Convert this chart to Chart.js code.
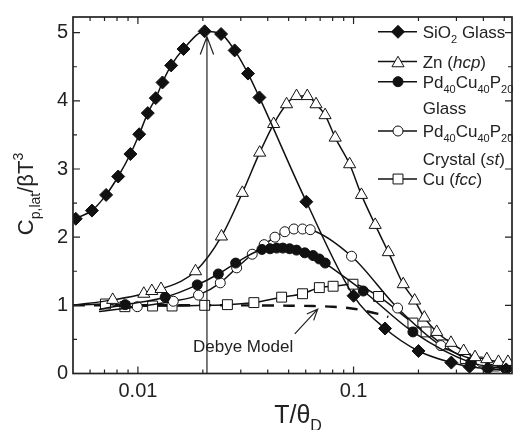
<!DOCTYPE html>
<html><head><meta charset="utf-8">
<style>html,body{margin:0;padding:0;background:#fff;overflow:hidden}#wrap{width:518px;height:430px;overflow:hidden;position:relative}canvas{display:block}</style>
<script src="https://cdn.jsdelivr.net/npm/chart.js@4.4.1/dist/chart.umd.min.js"></script>
</head><body><div id="wrap"><canvas id="c" width="520" height="430"></canvas></div>
<script>
// ---- data ----
const sio2T = [0.00515,0.00612,0.00712,0.0081,0.00923,0.01014,0.01111,0.0121,0.0130,0.01426,0.01627,0.0204,0.0243,0.0281,0.0324,0.0366,0.0604,0.100,0.140,0.200,0.284,0.345,0.42,0.51];
const sio2C = [2.27,2.39,2.62,2.89,3.22,3.51,3.82,4.04,4.27,4.52,4.76,5.02,4.98,4.74,4.40,4.05,2.52,1.14,0.66,0.33,0.16,0.10,0.07,0.06];
const znT = [0.00764,0.01065,0.0116,0.0128,0.0185,0.0244,0.0305,0.0367,0.0426,0.0489,0.0544,0.061,0.067,0.0738,0.0822,0.0959,0.1088,0.126,0.145,0.170,0.192,0.213,0.243,0.283,0.324,0.366,0.415,0.47,0.52];
const znC = [1.08,1.17,1.21,1.24,1.50,2.01,2.65,3.24,3.66,3.95,4.07,4.07,3.95,3.79,3.46,3.07,2.62,2.18,1.78,1.31,1.07,0.82,0.61,0.45,0.33,0.24,0.21,0.17,0.17];
const pdGlassT = [0.00873,0.01338,0.01885,0.0236,0.0284,0.0376,0.0410,0.0440,0.0470,0.0505,0.0544,0.0594,0.0649,0.0694,0.0739,0.111,0.1885,0.35,0.51];
const pdGlassC = [1.01,1.12,1.30,1.46,1.62,1.82,1.83,1.84,1.84,1.83,1.81,1.77,1.73,1.68,1.62,1.21,0.61,0.16,0.07];
const pdCrystT = [0.00993,0.01459,0.0191,0.0241,0.0287,0.0339,0.0385,0.0432,0.048,0.0529,0.058,0.0630,0.0979,0.160,0.254,0.39,0.51];
const pdCrystC = [0.98,1.06,1.15,1.33,1.55,1.75,1.89,2.00,2.08,2.12,2.12,2.11,1.72,0.96,0.41,0.17,0.08];
const cuT = [0.00707,0.0087,0.0117,0.0144,0.0204,0.026,0.0345,0.0464,0.058,0.0694,0.0804,0.0994,0.1306,0.1885,0.217,0.26,0.33,0.45];
const cuC = [1.02,0.98,0.99,0.99,1.00,1.01,1.04,1.12,1.17,1.26,1.28,1.31,1.13,0.74,0.61,0.42,0.22,0.11];
const debyeT = [0.005,0.03,0.05,0.065,0.08,0.10,0.13,0.145];
const debyeC = [1.00,1.00,0.995,0.99,0.98,0.95,0.875,0.83];
// where each fitted curve starts (no marker)
const sio2Start = [0.005,2.24];
const znStart = [0.005,1.00];
const pdGlassStart = [0.0066,0.94];
const pdCrystStart = [0.0066,0.91];
const cuStart = [0.005,1.00];
// arrows (data coordinates)
const peakArrow = [[0.0209,0],[0.0209,4.94]];
const debyeArrow = [[0.0534,0.58],[0.0682,0.945]];
// ticks
const xTicks = [0.01,0.1];
const xTickLabels = ['0.01','0.1'];
const xMinor = [0.006,0.007,0.008,0.009,0.02,0.03,0.04,0.05,0.06,0.07,0.08,0.09,0.2,0.3,0.4,0.5];
const yTicks = [0,1,2,3,4,5];
const yMinor = [0.5,1.5,2.5,3.5,4.5];
const seriesLabels = ['SiO2 Glass','Zn (hcp)','Pd40Cu40P20 Glass','Pd40Cu40P20 Crystal (st)','Cu (fcc)','Debye Model'];

const FONT = 'Arial, "Liberation Sans", Helvetica, sans-serif';
const INK = '#111';

function pts(xs, ys, lead){
  const a = xs.map((x,i)=>({x:x, y:ys[i]}));
  if (lead) a.unshift({x:lead[0], y:lead[1], lead:true});
  return a;
}
function series(label, data, style, r, fill){
  return {label, data, showLine:true, borderColor:INK, borderWidth:1.5,
    pointStyle:style, pointRadius:c=>(c.raw && c.raw.lead)?0:r,
    pointBackgroundColor:fill, pointBorderColor:INK, pointBorderWidth:1,
    cubicInterpolationMode:'monotone', fill:false};
}

function marker(ctx, style, cx, cy, r, fill){
  ctx.beginPath();
  if (style==='rectRot'){ctx.moveTo(cx-r,cy);ctx.lineTo(cx,cy-r);ctx.lineTo(cx+r,cy);ctx.lineTo(cx,cy+r);ctx.closePath();}
  else if (style==='triangle'){const a=2*Math.PI/3;ctx.moveTo(cx,cy-r);ctx.lineTo(cx+r*Math.sin(a),cy-r*Math.cos(a));ctx.lineTo(cx+r*Math.sin(2*a),cy-r*Math.cos(2*a));ctx.closePath();}
  else if (style==='circle'){ctx.arc(cx,cy,r,0,Math.PI*2);}
  else {const s=r*Math.SQRT1_2;ctx.rect(cx-s,cy-s,2*s,2*s);}
  ctx.fillStyle=fill;ctx.fill();ctx.lineWidth=1;ctx.strokeStyle=INK;ctx.stroke();
}
// draws text runs; kind: '', 'sub', 'sup', 'it'
function runs(ctx, parts, x, base, size, subSize){
  for (const [t,k] of parts){
    let f = size, dy = 0, st = '';
    if (k==='sub'){f=subSize;dy=size*0.3;}
    if (k==='sup'){f=subSize;dy=-size*0.45;}
    if (k==='it'){st='italic ';}
    ctx.font = st + f + 'px ' + FONT;
    ctx.fillText(t, x, base+dy);
    x += ctx.measureText(t).width;
  }
  return x;
}
function runsWidth(ctx, parts, size, subSize){
  let w=0;
  for (const [t,k] of parts){
    const f=(k==='sub'||k==='sup')?subSize:size;
    ctx.font=(k==='it'?'italic ':'')+f+'px '+FONT;
    w+=ctx.measureText(t).width;
  }
  return w;
}
function arrow(ctx, x0,y0,x1,y1, len, half){
  ctx.beginPath();ctx.moveTo(x0,y0);ctx.lineTo(x1,y1);
  const ang=Math.atan2(y1-y0,x1-x0);
  ctx.moveTo(x1-len*Math.cos(ang-half),y1-len*Math.sin(ang-half));
  ctx.lineTo(x1,y1);
  ctx.lineTo(x1-len*Math.cos(ang+half),y1-len*Math.sin(ang+half));
  ctx.stroke();
}

const deco = {
  id:'deco',
  afterDatasetsDraw(chart){
    const {ctx, chartArea:a} = chart;
    const x = chart.scales.x, y = chart.scales.y;
    const L=a.left,R=a.right,T=a.top,B=a.bottom;
    ctx.save();
    ctx.strokeStyle='#222';ctx.lineWidth=1.2;ctx.lineCap='butt';
    arrow(ctx, x.getPixelForValue(peakArrow[0][0]), y.getPixelForValue(peakArrow[0][1]), x.getPixelForValue(peakArrow[1][0]), y.getPixelForValue(peakArrow[1][1]), 19, 0.36);
    arrow(ctx, x.getPixelForValue(debyeArrow[0][0]), y.getPixelForValue(debyeArrow[0][1]), x.getPixelForValue(debyeArrow[1][0]), y.getPixelForValue(debyeArrow[1][1]), 12, 0.4);
    // Debye label
    ctx.fillStyle='#222';ctx.textBaseline='alphabetic';ctx.textAlign='left';
    ctx.font='17px '+FONT;ctx.fillText('Debye Model',193,352);
    // ticks
    ctx.strokeStyle='#222';ctx.lineWidth=1.2;
    ctx.beginPath();
    for (const v of yTicks){const p=y.getPixelForValue(v);ctx.moveTo(L,p);ctx.lineTo(L+7,p);ctx.moveTo(R,p);ctx.lineTo(R-7,p);}
    for (const v of yMinor){const p=y.getPixelForValue(v);ctx.moveTo(L,p);ctx.lineTo(L+4,p);ctx.moveTo(R,p);ctx.lineTo(R-4,p);}
    for (const v of xTicks){const p=x.getPixelForValue(v);ctx.moveTo(p,B);ctx.lineTo(p,B-7);ctx.moveTo(p,T);ctx.lineTo(p,T+7);}
    for (const v of xMinor){const p=x.getPixelForValue(v);ctx.moveTo(p,B);ctx.lineTo(p,B-4);ctx.moveTo(p,T);ctx.lineTo(p,T+4);}
    ctx.stroke();
    ctx.lineWidth=1.7;ctx.strokeRect(L,T,R-L,B-T);
    // legend
    const rows = [
      {y:31.8, style:'rectRot', r:6.5, fill:INK, parts:[['SiO'],['2','sub'],[' Glass']]},
      {y:61.5, style:'triangle', r:7, fill:'#fff', parts:[['Zn ('],['hcp','it'],[')']]},
      {y:81.7, style:'circle', r:5, fill:INK, parts:[['Pd'],['40','sub'],['Cu'],['40','sub'],['P'],['20','sub']]},
      {y:108.3, parts:[['Glass']]},
      {y:131, style:'circle', r:5, fill:'#fff', parts:[['Pd'],['40','sub'],['Cu'],['40','sub'],['P'],['20','sub']]},
      {y:159.3, parts:[['Crystal ('],['st','it'],[')']]},
      {y:179, style:'rect', r:7, fill:'#fff', parts:[['Cu ('],['fcc','it'],[')']]}
    ];
    for (const row of rows){
      if (row.style){
        ctx.strokeStyle=INK;ctx.lineWidth=1.5;
        ctx.beginPath();ctx.moveTo(378,row.y);ctx.lineTo(417,row.y);ctx.stroke();
        marker(ctx,row.style,398,row.y+(row.style==='triangle'?row.r/4:0),row.r,row.fill);
      }
      ctx.fillStyle='#222';
      runs(ctx,row.parts,422.7,row.y+6.1,17,11);
    }
    // axis titles
    ctx.fillStyle='#222';
    const yt=[['C'],['p,lat','sub'],['/'],['\u03B2T'],['3','sup']];
    const w=runsWidth(ctx,yt,22,14);
    ctx.save();ctx.translate(33,194);ctx.rotate(-Math.PI/2);
    runs(ctx,yt,-w/2,0,22,14);
    ctx.restore();
    const xt=[['T/\u03B8'],['D','sub']];
    const w2=runsWidth(ctx,xt,25,16);
    runs(ctx,xt,298-w2/2,423,25,16);
    ctx.restore();
  }
};

new Chart(document.getElementById('c'), {
  type:'scatter',
  data:{datasets:[
    series(seriesLabels[0], pts(sio2T,sio2C,sio2Start), 'rectRot', 6.5, INK),
    series(seriesLabels[1], pts(znT,znC,znStart), 'triangle', 7, '#fff'),
    series(seriesLabels[2], pts(pdGlassT,pdGlassC,pdGlassStart), 'circle', 5, INK),
    series(seriesLabels[3], pts(pdCrystT,pdCrystC,pdCrystStart), 'circle', 5, '#fff'),
    series(seriesLabels[4], pts(cuT,cuC,cuStart), 'rect', 7, '#fff'),
    {label:seriesLabels[5], data:pts(debyeT,debyeC), showLine:true, borderColor:INK, borderWidth:2.4, borderDash:[12,9], pointRadius:0, tension:0.3, fill:false}
  ]},
  options:{
    responsive:false, animation:false, devicePixelRatio:1, events:[],
    layout:{padding:{top:13,right:1,left:0,bottom:0}},
    plugins:{legend:{display:false},tooltip:{enabled:false}},
    scales:{
      x:{type:'logarithmic', min:0.005, max:0.543,
        grid:{display:false,drawTicks:false}, border:{display:false},
        afterBuildTicks:s=>{s.ticks=xTicks.map(v=>({value:v}));},
        afterFit:s=>{s.height=56.5;},
        ticks:{autoSkip:false, maxRotation:0, padding:6, color:'#222', font:{family:FONT,size:20},
          callback:(v)=>{const i=xTicks.indexOf(v);return i>=0?xTickLabels[i]:'';}}},
      y:{type:'linear', min:0, max:5.23,
        grid:{display:false,drawTicks:false}, border:{display:false},
        afterBuildTicks:s=>{s.ticks=yTicks.map(v=>({value:v}));},
        afterFit:s=>{s.width=73;},
        ticks:{padding:5, color:'#222', font:{family:FONT,size:20}, callback:v=>String(v)}}
    }
  },
  plugins:[deco]
});
</script></body></html>
